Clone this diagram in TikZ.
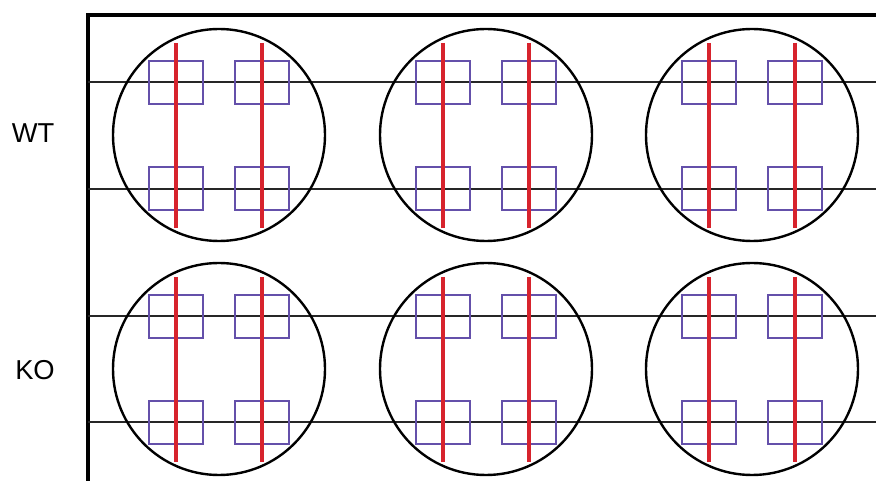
\documentclass[tikz,border=0pt]{standalone}
\usepackage{fontspec}
\setmainfont{Liberation Sans}
\usepackage{tikz}
\usetikzlibrary{positioning}

\definecolor{slidered}{RGB}{215,35,45}
\definecolor{roiblue}{RGB}{100,80,170}

\tikzset{
    dish/.style={draw=black, line width=1.8pt, circle, minimum size=159pt, inner sep=0pt},
    roi/.style={draw=roiblue, line width=0.8pt},
    section/.style={draw=slidered, line width=3.6pt},
    level/.style={draw=black!85, line width=0.8pt},
    grouplabel/.style={font=\fontsize{20.5}{24}\selectfont}
}

\begin{document}
\begin{tikzpicture}[x=0.75pt, y=-0.75pt]
    \useasboundingbox (0,0) rectangle (876,481);

    % Frame
    \draw[line width=2.6pt] (88,481) -- (88,15) -- (876,15);

    % Section levels
    \foreach \ly in {82,189,316,422}
        \draw[level] (88,\ly) -- (876,\ly);

    % Group labels
    \node[grouplabel] (wt) at (33,133) {WT};
    \node[grouplabel] (ko) at (35,370) {KO};

    % Dishes with sections and ROIs
    \foreach \row/\cy in {wt/135, ko/369} {
        \foreach \col/\cx in {1/219, 2/486, 3/752} {
            \node[dish] (\row\col) at (\cx,\cy) {};
            \foreach \dx in {-43,43} {
                \draw[roi] (\cx+\dx-27,\cy-74) rectangle (\cx+\dx+27,\cy-31);
                \draw[roi] (\cx+\dx-27,\cy+32) rectangle (\cx+\dx+27,\cy+75);
                \draw[section] (\cx+\dx,\cy-92) -- (\cx+\dx,\cy+93);
            }
        }
    }
\end{tikzpicture}
\end{document}
